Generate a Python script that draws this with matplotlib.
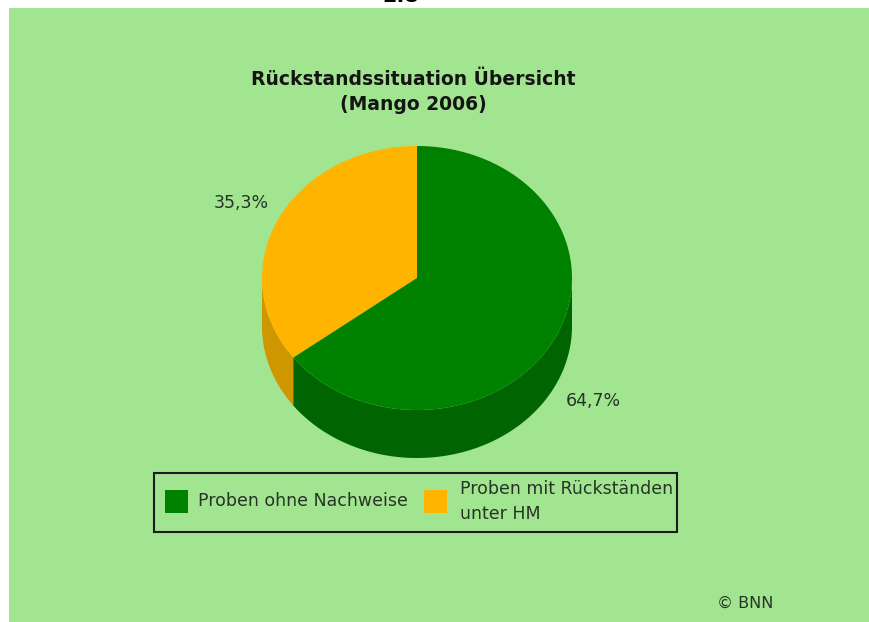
import numpy as np
import matplotlib.pyplot as plt
from matplotlib.patches import Polygon, Rectangle

plt.rcParams['font.family'] = ['DejaVu Sans']

# Daten
labels = ['Proben ohne Nachweise', 'Proben mit Rückständen\nunter HM']
shares = [64.7, 35.3]
top_colors = ['#008200', '#ffb400']
side_colors = ['#006400', '#d09600']
title = 'Rückstandssituation Übersicht\n(Mango 2006)'

W, H = 869, 622
fig = plt.figure(figsize=(W / 100, H / 100), dpi=100)
ax = fig.add_axes([0, 0, 1, 1])
ax.set_xlim(0, W)
ax.set_ylim(H, 0)
ax.axis('off')

# grüner Hintergrund
ax.add_patch(Rectangle((9, 8), W - 9, H - 8, facecolor='#a2e590', edgecolor='none', zorder=0))
ax.text(401, 2.5, '2.8', ha='center', va='baseline', fontsize=15, fontweight='bold', color='black')

ax.text(413, 92, title, ha='center', va='center', fontsize=13.5, fontweight='bold',
        color='#141414', linespacing=1.35)

# 3D-Torte
cx, cy, rx, ry, depth = 417, 278, 155, 132, 48


def arc(t0, t1, n=200):
    t = np.radians(np.linspace(t0, t1, n))
    return cx + rx * np.cos(t), cy - ry * np.sin(t)


total = sum(shares)
start = 90
wedges = []
for i in [1, 0]:  # Orange gegen den Uhrzeigersinn ab 12 Uhr, Rest grün
    span = shares[i] / total * 360
    wedges.append((i, start, start + span))
    start += span

# Seitenwände (nur vordere Hälfte sichtbar)
for i, t0, t1 in wedges:
    for lo, hi in [(180, 360), (540, 720)]:
        a, b = max(t0, lo), min(t1, hi)
        if a >= b:
            continue
        xs, ys = arc(a, b)
        pts = np.column_stack([np.r_[xs, xs[::-1]], np.r_[ys, ys[::-1] + depth]])
        ax.add_patch(Polygon(pts, closed=True, facecolor=side_colors[i], edgecolor='none', zorder=2))

# Deckflächen
for i, t0, t1 in wedges:
    xs, ys = arc(t0, t1)
    pts = np.column_stack([np.r_[cx, xs], np.r_[cy, ys]])
    ax.add_patch(Polygon(pts, closed=True, facecolor=top_colors[i], edgecolor='none', zorder=3))

# Prozentwerte
for i, t0, t1 in wedges:
    mid = np.radians((t0 + t1) / 2)
    lx = cx + 1.27 * rx * np.cos(mid)
    ly = cy - 1.27 * ry * np.sin(mid) + (depth if np.sin(mid) < 0 else 0)
    ax.text(lx, ly, f'{shares[i]:.1f}%'.replace('.', ','), ha='center', va='center',
            fontsize=12.5, color='#263426', zorder=4)

# Legende
ax.add_patch(Rectangle((154, 473), 523, 59, facecolor='none', edgecolor='#1c1c1c', lw=1.5, zorder=4))
key_x = [165, 424]
text_x = [198, 460]
for i in range(2):
    ax.add_patch(Rectangle((key_x[i], 490), 23, 23, facecolor=top_colors[i], edgecolor='none', zorder=4))
    ax.text(text_x[i], 501.5, labels[i], ha='left', va='center', fontsize=12.5,
            color='#263426', linespacing=1.45, zorder=5)

ax.text(745, 603, '© BNN', ha='center', va='center', fontsize=11.5, color='#263426')

fig.savefig('out.png', dpi=100)
